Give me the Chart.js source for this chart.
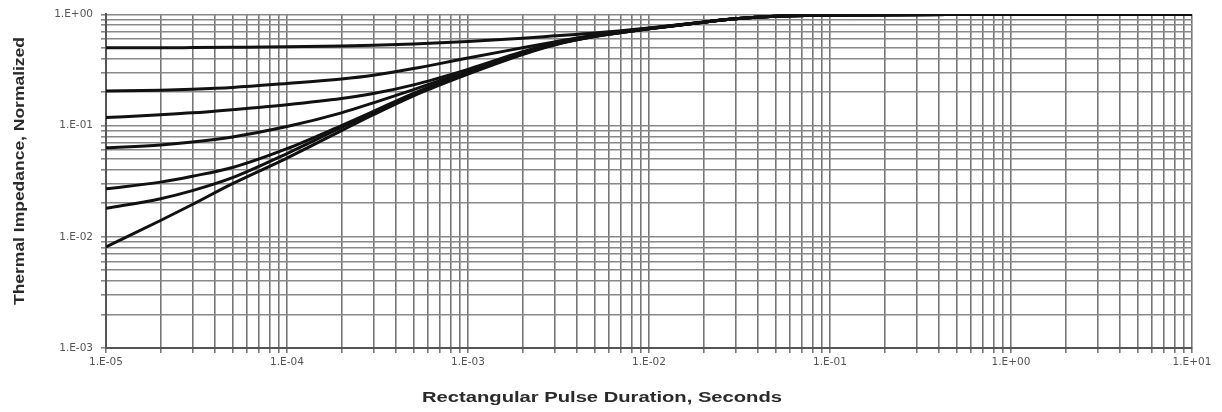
<!DOCTYPE html>
<html>
<head>
<meta charset="utf-8">
<script src="https://cdn.jsdelivr.net/npm/chart.js@4"></script>
<style>
    body{ margin:0; background:#fff; }
    .grafico-ct{ width:1222px; height:412px; }
</style>
</head>
<body>
<div class="grafico-ct"><canvas id="grafico"></canvas></div>
<script>
//*************  Dados  **********************************/
const pulseTimes = [1e-5, 2e-5, 3e-5, 5e-5, 1e-4, 2e-4, 3e-4, 5e-4, 1e-3, 2e-3, 3e-3, 5e-3, 1e-2, 2e-2, 3e-2, 5e-2, 1e-1, 1, 10]

const duty05 = [0.5, 0.5, 0.502, 0.505, 0.51, 0.518, 0.526, 0.542, 0.57, 0.61, 0.64, 0.68, 0.755, 0.85, 0.91, 0.96, 0.985, 1.0, 1.0]
const duty02 = [0.204, 0.208, 0.212, 0.22, 0.239, 0.262, 0.283, 0.325, 0.405, 0.5, 0.565, 0.65, 0.75, 0.85, 0.91, 0.96, 0.985, 1.0, 1.0]
const duty01 = [0.118, 0.125, 0.13, 0.139, 0.154, 0.175, 0.194, 0.232, 0.32, 0.46, 0.55, 0.645, 0.745, 0.85, 0.91, 0.96, 0.985, 1.0, 1.0]
const duty005 = [0.063, 0.067, 0.071, 0.079, 0.098, 0.13, 0.16, 0.21, 0.31, 0.45, 0.545, 0.64, 0.745, 0.85, 0.91, 0.96, 0.985, 1.0, 1.0]
const duty002 = [0.027, 0.031, 0.035, 0.042, 0.062, 0.1, 0.134, 0.195, 0.3, 0.445, 0.54, 0.635, 0.74, 0.85, 0.91, 0.96, 0.985, 1.0, 1.0]
const duty001 = [0.018, 0.022, 0.026, 0.034, 0.056, 0.096, 0.13, 0.19, 0.295, 0.44, 0.535, 0.632, 0.74, 0.85, 0.91, 0.96, 0.985, 1.0, 1.0]
const singlePulse = [0.0081, 0.014, 0.0195, 0.03, 0.051, 0.09, 0.125, 0.185, 0.29, 0.435, 0.53, 0.63, 0.74, 0.85, 0.91, 0.96, 0.985, 1.0, 1.0]

const seriesNames = ["D = 0.5", "D = 0.2", "D = 0.1", "D = 0.05", "D = 0.02", "D = 0.01", "Single Pulse"]
const seriesValues = [duty05, duty02, duty01, duty005, duty002, duty001, singlePulse]

// linhas de grelha: 1..9 em cada década
const xDecades = [-5, -4, -3, -2, -1, 0]
const yDecades = [-3, -2, -1]

const xTitle = "Rectangular Pulse Duration, Seconds"
const yTitle = "Thermal Impedance, Normalized"


//*************  Funções auxiliares  ****************/
function gridValues(decades){
    let vals = []
    for(let d of decades){
        for(let m = 1; m <= 9; m++){
            vals.push(m * Math.pow(10, d))
        }
    }
    vals.push(Math.pow(10, decades[decades.length - 1] + 1))
    return vals
}

// formato tipo Excel: 1.E-05
function excelLabel(v){
    let e = Math.log10(v)
    let r = Math.round(e)
    if(Math.abs(e - r) > 1e-6) return ""
    let s = r < 0 ? "-" : "+"
    return "1.E" + s + String(Math.abs(r)).padStart(2, "0")
}

let datasets = []
for(let i = 0; i < seriesValues.length; i++){
    datasets.push({
        label: seriesNames[i],
        data: pulseTimes.map((t, k) => ({x: t, y: seriesValues[i][k]})),
        borderColor: "#111",
        borderWidth: 3,
        pointRadius: 0,
        fill: false,
        cubicInterpolationMode: "monotone"
    })
}

// titulos dos eixos desenhados à mão (posição igual à imagem)
const axisTitles = {
    id: "axisTitles",
    afterDraw(chart){
        const ctx = chart.ctx
        ctx.save()
        ctx.fillStyle = "#2a2a2a"
        ctx.font = "bold 14px 'Liberation Sans', Arial, sans-serif"
        ctx.textAlign = "center"
        ctx.textBaseline = "middle"

        // eixo x
        let w = ctx.measureText(xTitle).width
        ctx.save()
        ctx.translate(602, 398)
        ctx.scale(360 / w, 1)
        ctx.fillText(xTitle, 0, 0)
        ctx.restore()

        // eixo y
        w = ctx.measureText(yTitle).width
        ctx.save()
        ctx.translate(20, 171)
        ctx.rotate(-Math.PI / 2)
        ctx.scale(268 / w, 1)
        ctx.fillText(yTitle, 0, 0)
        ctx.restore()

        ctx.restore()
    }
}

const tickFont = {family: "'DejaVu Sans', sans-serif", size: 10.5}

new Chart(document.getElementById("grafico"), {
    type: "line",
    data: { datasets: datasets },
    options: {
        responsive: true,
        maintainAspectRatio: false,
        animation: false,
        layout: { padding: {top: 12, right: 30, bottom: 0, left: 0} },
        plugins: {
            legend: { display: false },
            tooltip: { enabled: false }
        },
        scales: {
            x: {
                type: "logarithmic",
                min: 1e-5,
                max: 10,
                afterBuildTicks: scale => { scale.ticks = gridValues(xDecades).map(v => ({value: v})) },
                afterFit: scale => { scale.height = 64 },
                ticks: {
                    autoSkip: false,
                    maxRotation: 0,
                    padding: 3,
                    color: "#555",
                    font: tickFont,
                    callback: v => excelLabel(v)
                },
                grid: { color: "#777", lineWidth: 1.6, tickLength: 5 },
                border: { color: "#555", width: 2 }
            },
            y: {
                type: "logarithmic",
                min: 1e-3,
                max: 1,
                afterBuildTicks: scale => { scale.ticks = gridValues(yDecades).map(v => ({value: v})) },
                afterFit: scale => { scale.width = 106 },
                ticks: {
                    autoSkip: false,
                    padding: 8,
                    color: "#555",
                    font: tickFont,
                    callback: v => excelLabel(v)
                },
                grid: { color: "#888", lineWidth: 1.6, tickLength: 5 },
                border: { color: "#555", width: 2 }
            }
        }
    },
    plugins: [axisTitles]
})
</script>
</body>
</html>
